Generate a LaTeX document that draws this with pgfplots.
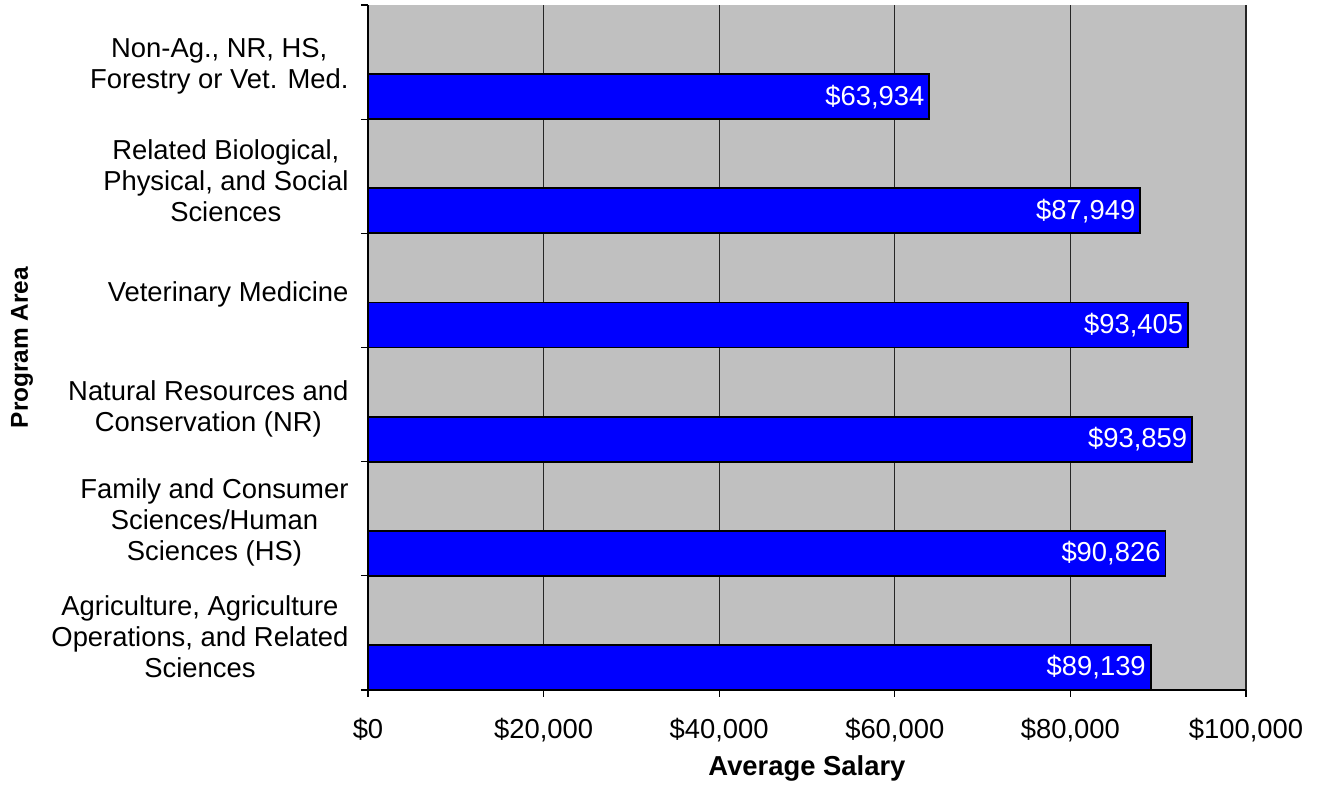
\documentclass[border=0pt]{standalone}
\usepackage{pgfplots}
\pgfplotsset{compat=1.18}
\usepackage{fontspec}
\setmainfont{Liberation Sans}
\definecolor{bg}{HTML}{C0C0C0}
\definecolor{barblue}{HTML}{0000FF}
\newcommand{\lblfont}{\fontsize{13.7pt}{15.5pt}\selectfont}
\begin{document}
\begin{tikzpicture}
\lblfont
\begin{axis}[
  at={(0,0)}, anchor=south west,
  scale only axis, width=439pt, height=342.5pt,
  xmin=0, xmax=100000, ymin=0, ymax=6,
  axis background/.style={fill=bg},
  axis x line*=bottom, axis y line*=left,
  axis line style={black, line width=0.8pt, -},
  xtick={0,20000,40000,60000,80000,100000},
  xticklabels={{\$0},{\$20,000},{\$40,000},{\$60,000},{\$80,000},{\$100,000}},
  scaled x ticks=false,
  xmajorgrids, grid style={black!85, line width=0.6pt},
  tick align=outside, major tick length=3.5pt, minor tick length=3.5pt,
  tick style={black, line width=0.6pt},
  ytick={0.5,1.5,2.5,3.5,4.5,5.5},
  yticklabels={{Agriculture, Agriculture\\Operations, and Related\\Sciences},
    {Family and Consumer\\Sciences/Human\\Sciences (HS)},
    {Natural Resources and\\Conservation (NR)},
    {Veterinary Medicine},
    {Related Biological,\\Physical, and Social\\Sciences},
    {Non-Ag., NR, HS,\\Forestry or Vet. Med.}},
  major y tick style={draw=none},
  minor ytick={0,1,2,3,4,5,6},
  yticklabel style={align=center, font=\lblfont, xshift=-1.5pt, yshift=-2pt},
  xticklabel style={font=\lblfont, yshift=-6pt},
  xlabel={\textbf{Average Salary}},
  ylabel={\textbf{Program Area}},
  xlabel style={font=\lblfont, yshift=2.5pt},
  ylabel style={font=\fontsize{12.2pt}{14pt}\selectfont, at={(-173pt,0.5)}, anchor=center},
  clip=false,
]
\addplot[xbar, bar width=0.394, fill=barblue, draw=black, line width=0.9pt,
  point meta=explicit symbolic,
  nodes near coords,
  nodes near coords style={anchor=east, text=white, inner sep=2pt, font=\lblfont}]
  coordinates {
    (63934,5.197) [\$63,934]
    (87949,4.197) [\$87,949]
    (93405,3.197) [\$93,405]
    (93859,2.197) [\$93,859]
    (90826,1.197) [\$90,826]
    (89139,0.197) [\$89,139]
  };
\end{axis}
\path (-184pt,-47.5pt) rectangle (475pt,345pt);
\end{tikzpicture}
\end{document}
